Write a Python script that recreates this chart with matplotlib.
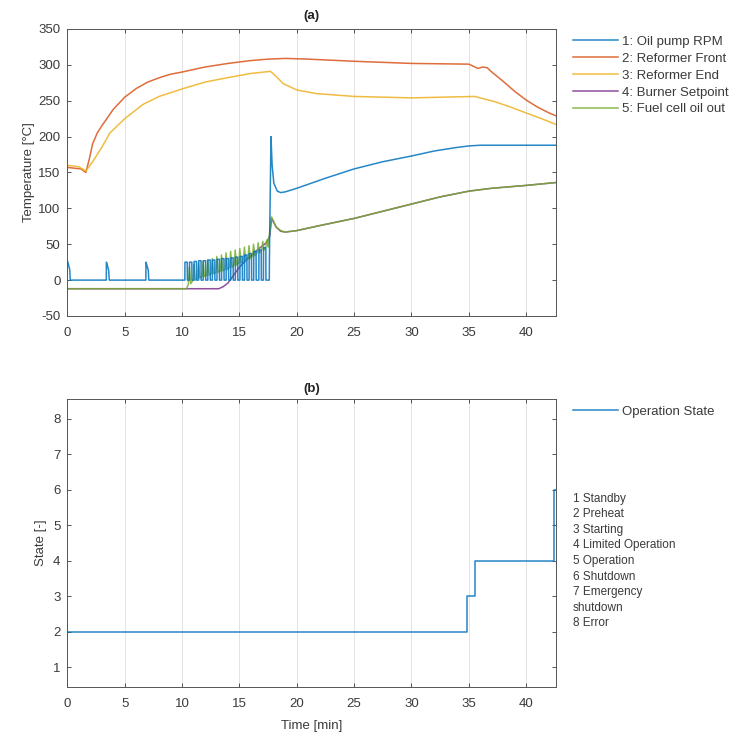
import matplotlib
matplotlib.use("Agg")
import matplotlib.pyplot as plt
import numpy as np

plt.rcParams['font.family'] = ['Liberation Sans', 'DejaVu Sans']
plt.rcParams['axes.unicode_minus'] = False

# ---------------- data ----------------
# 1: Oil pump RPM - isolated/clustered pulses before start-up, then smooth curve
pump_pulse_t = [0.0, 3.4, 6.85]
pump_pulse_h = [27, 25, 25]
pump_cluster_t = [10.25, 10.65, 11.05, 11.45, 11.85, 12.25, 12.65, 13.05, 13.45,
                  13.85, 14.25, 14.65, 15.05, 15.45, 15.85, 16.25, 16.7, 17.1]
pump_cluster_h = [25, 25, 26, 27, 27, 28, 28, 29, 30, 30, 31, 32, 33, 35, 37, 40, 42, 45]
pump_after_t = [17.45, 17.6, 17.63, 17.75, 17.85, 18.0, 18.3, 18.6, 19.0, 20.0, 22.5, 25.0,
                27.5, 30.0, 32.0, 34.0, 35.0, 36.0, 38.0, 40.0, 42.6]
pump_after_v = [0, 0, 55, 200, 160, 135, 124, 122, 123, 128, 142, 155,
                165, 173, 180, 185, 187, 188, 188, 188, 188]

# 2: Reformer Front
front_t = [0, 1.2, 1.6, 1.9, 2.2, 2.6, 3, 4, 5, 6, 7, 8, 9, 10, 12, 14, 16, 17.5, 19, 21,
           25, 30, 35, 35.4, 35.8, 36.2, 36.6, 37, 38, 39, 40, 41, 42, 42.6]
front_v = [157, 155, 150, 168, 190, 205, 215, 238, 255, 267, 276, 282, 287, 290, 297, 302,
           306, 308, 309, 308, 305, 302, 301, 298, 295, 297, 296, 290, 277, 263, 251, 241,
           233, 229]

# 3: Reformer End
end_t = [0, 1.0, 1.6, 2.2, 3, 3.7, 5, 6.6, 8, 10.1, 12, 13.9, 16, 17.7, 18.2, 18.8, 20,
         21.7, 25, 30, 35.5, 37.2, 38.5, 40, 41.5, 42.6]
end_v = [160, 158, 152, 165, 185, 205, 225, 245, 256, 267, 276, 282, 288, 291, 284, 274,
         265, 260, 256, 254, 256, 249, 242, 233, 224, 217]

# 4: Burner Setpoint
burner_t = [0, 13.2, 13.6, 14.0, 14.5, 15.0, 15.6, 16.2, 16.8, 17.4, 17.65, 17.8, 18.2, 18.6,
            19, 20, 22, 25, 27.5, 30, 32.5, 35, 37, 40, 42.6]
burner_v = [-12, -12, -9, -4, 7, 18, 28, 37, 45, 53, 62, 86, 74, 68,
            67, 69, 76, 86, 96, 106, 116, 124, 128, 132, 136]

# 5: Fuel cell oil out (spiky during pre-heat)
oil_pre_t = [0, 10.4]
oil_pre_v = [-12, -12]
oil_spike_t = [10.55, 10.95, 11.35, 11.75, 12.15, 12.55, 12.95, 13.35, 13.75, 14.15,
               14.55, 14.95, 15.35, 15.75, 16.15, 16.55, 16.95, 17.3]
oil_spike_low = [-5, 0, 3, 5, 7, 9, 11, 13, 15, 18, 21, 24, 27, 30, 34, 38, 42, 46]
oil_spike_high = [18, 22, 24, 26, 28, 30, 33, 35, 38, 40, 42, 44, 46, 48, 50, 52, 54, 56]
oil_post_t = [17.55, 17.8, 18.2, 18.6, 19, 20, 22, 25, 27.5, 30, 32.5, 35, 37, 40, 42.6]
oil_post_v = [55, 88, 74, 69, 67, 69, 76, 86, 96, 106, 116, 124, 128, 132, 136]

# Operation state
state_t = [0, 34.85, 35.5, 42.45, 42.6]
state_v = [2, 3, 4, 6, 6]
state_labels = ["1 Standby", "2 Preheat", "3 Starting", "4 Limited Operation",
                "5 Operation", "6 Shutdown", "7 Emergency", "shutdown", "8 Error"]

series_names = ["1: Oil pump RPM", "2: Reformer Front", "3: Reformer End",
                "4: Burner Setpoint", "5: Fuel cell oil out"]
colors = ["#0072BD", "#D95319", "#EDB120", "#7E2F8E", "#77AC30"]

# ---------------- build poly-lines ----------------
pump_t, pump_v = [], []
for t, h in zip(pump_pulse_t, pump_pulse_h):
    if t > 0:
        pump_t += [t - 0.01]
        pump_v += [0]
    pump_t += [t, t + 0.05, t + 0.2, t + 0.25]
    pump_v += [h, h * 0.9, h * 0.55, 0]
for t, h in zip(pump_cluster_t, pump_cluster_h):
    pump_t += [t - 0.01, t, t + 0.2, t + 0.21]
    pump_v += [0, h, h, 0]
pump_t += pump_after_t
pump_v += pump_after_v

oil_t = list(oil_pre_t)
oil_v = list(oil_pre_v)
for t, lo, hi in zip(oil_spike_t, oil_spike_low, oil_spike_high):
    oil_t += [t, t + 0.08, t + 0.2]
    oil_v += [lo, hi, lo]
oil_t += oil_post_t
oil_v += oil_post_v

# ---------------- figure ----------------
fig = plt.figure(figsize=(7.31, 7.34), dpi=100)
ax1 = fig.add_axes([0.0922, 0.5695, 0.6684, 0.391])
ax2 = fig.add_axes([0.0922, 0.064, 0.6684, 0.3924])

txt_col = "#3a3a3a"
fs = 9.5
for ax in (ax1, ax2):
    ax.tick_params(direction="in", top=True, right=True, labelsize=fs, colors=txt_col,
                   length=3, width=0.6)
    ax.tick_params(axis="x", pad=8)
    ax.tick_params(axis="y", pad=5)
    for sp in ax.spines.values():
        sp.set_color("#555555")
        sp.set_linewidth(0.7)
    ax.xaxis.grid(True, color="#e3e3e3", linewidth=0.7)
    ax.set_axisbelow(True)
    ax.set_xlim(0, 42.6)
    ax.set_xticks(range(0, 45, 5))

lw = 1.1
al = 0.85
ax1.plot(pump_t, pump_v, color=colors[0], lw=lw, alpha=al, label=series_names[0], zorder=5)
ax1.plot(front_t, front_v, color=colors[1], lw=lw, alpha=al, label=series_names[1])
ax1.plot(end_t, end_v, color=colors[2], lw=lw, alpha=al, label=series_names[2])
ax1.plot(burner_t, burner_v, color=colors[3], lw=lw, alpha=al, label=series_names[3])
ax1.plot(oil_t, oil_v, color=colors[4], lw=lw, alpha=al, label=series_names[4])
ax1.set_ylim(-50, 350)
ax1.set_yticks(range(-50, 351, 50))
ax1.set_ylabel("Temperature [°C]", fontsize=fs, color=txt_col, labelpad=2)
ax1.set_title("(a)", fontsize=fs, fontweight="bold", color="#222222", pad=7)
leg1 = ax1.legend(loc="upper left", bbox_to_anchor=(1.025, 0.995), frameon=False,
                  fontsize=fs, handlelength=3.4, labelspacing=0.35, handletextpad=0.3,
                  borderaxespad=0.0)
for t in leg1.get_texts():
    t.set_color(txt_col)

ax2.plot(state_t, state_v, color=colors[0], lw=lw, alpha=al, drawstyle="steps-post",
         label="Operation State")
ax2.set_ylim(0.45, 8.55)
ax2.set_yticks(range(1, 9))
ax2.set_ylabel("State [-]", fontsize=fs, color=txt_col, labelpad=4)
ax2.set_xlabel("Time [min]", fontsize=fs, color=txt_col, labelpad=7)
ax2.set_title("(b)", fontsize=fs, fontweight="bold", color="#222222", pad=5)
leg2 = ax2.legend(loc="upper left", bbox_to_anchor=(1.025, 0.995), frameon=False,
                  fontsize=fs, handlelength=3.4, handletextpad=0.3, borderaxespad=0.0)
for t in leg2.get_texts():
    t.set_color(txt_col)

ax2.text(1.035, 0.675, "\n".join(state_labels), transform=ax2.transAxes, fontsize=8.5,
         color=txt_col, va="top", ha="left", linespacing=1.4)

fig.savefig("out.png", dpi=100)
